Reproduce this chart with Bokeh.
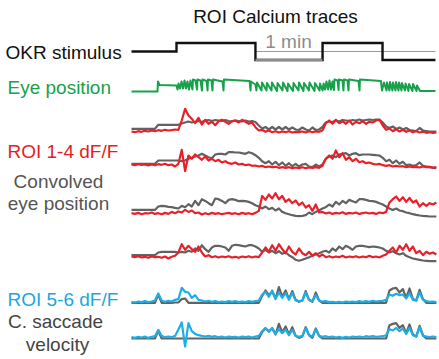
from bokeh.plotting import figure
from bokeh.models import Range1d
from bokeh.core.properties import value
from bokeh.embed import file_html
from bokeh.resources import INLINE

# ---------------- data ----------------
# time axis in seconds (1 min scale bar = 60 s); traces sampled every 3 s
time = [3 * i for i in range(92)]

# OKR stimulus: edges (s) and level of each segment (+1 / 0 / -1)
stim_edges = [0, 40.3, 111.0, 171.1, 224.8, 272.2]
stim_levels = [0, 1, -1, 1, -1]
scale_bar_start = 111.0
scale_bar_len = 60.0

# eye position breakpoints (s, deg-like units)
eye_t = [0, 23.3, 23.7, 25.1, 40.3, 41.2, 42.1, 43.4, 44.8, 46.1, 47.5, 48.8, 50.1, 51.5, 52.8,
         54.6, 55.1, 57.3, 58.7, 59.1, 61.8, 63.1, 63.6, 67.2, 68.1, 68.5, 71.6, 72.5, 73.0,
         81.5, 82.4, 82.8, 105.7, 106.6, 107.0, 111.0,
         111.9, 112.4, 116.4, 116.9, 120.9, 121.3, 125.4, 125.8, 130.3, 130.8, 135.2, 135.7,
         139.7, 140.2, 144.6, 145.1, 149.5, 150.0, 154.0, 154.5, 158.9, 159.4, 163.9, 164.3,
         168.4, 168.8, 171.1,
         172.0, 173.3, 174.6, 176.0, 177.3, 178.7, 180.0, 181.3, 181.8, 184.5, 185.4, 185.8,
         189.0, 189.8, 190.3, 193.4, 194.3, 194.8, 203.3, 204.2, 204.6, 223.4, 224.3,
         226.1, 228.4, 228.8, 231.0, 231.5, 233.7, 234.2, 236.4, 236.9, 239.1, 239.6, 241.8,
         242.2, 244.9, 245.4, 248.0, 248.5, 251.6, 252.1, 255.3, 255.7, 258.4, 272.2]
eye_pos = [0, 0, 10, 6.5, 6, 2, 8, 3, 10, 3, 11, 3, 10, 2, 11,
           2, 12, 11, 2, 12, 11, 1, 12, 10.5, 1, 12, 11, 1, 12,
           10, 1, 12, 10.5, 1, 10, 7,
           1, 9, 1, 9, 1, 8.5, 1, 9, 0.5, 8.5, 1, 9,
           0.5, 8, 0.5, 8.5, 1, 9, 0.5, 8.5, 1, 9, 0.5, 8.5,
           1, 8, 1,
           8, 2, 10, 2, 11, 2, 10, 1.5, 12, 11, 1.5, 12,
           11, 1, 12, 11, 1, 12, 10.5, 1, 12, 10.5, 1,
           9, 1, 9, 1, 9.5, 1, 9, 1, 9.5, 1, 9, 1,
           8.5, 1, 8, 0.5, 7.5, 0.5, 7.5, 0.5, 6, 0.5, 0.5]

roi1 = [0, -0.7, 0.3, -0.3, 0.7, 0, 1, 0.3, 1.3, 0.7, 1.7, 1, 1.3, 2, 1.7, 11, 22.7, 16, 12.7, 8.3,
        13.7, 7, 11.7, 7.7, 9.7, 6.3, 10.3, 11.7, 9.7, 7.7, 10.3, 11, 9, 11.7, 9.7, 7.7, 9, 4.3, 1, 1.7,
        -0.3, 1, -0.7, 0.3, -1, 0, -0.7, 0.3, -1, -0.3, -0.7, 0, -1, 0.3, -0.7, 0, -0.3, 1, 8.3, 11,
        7.7, 11.7, 8.3, 10.3, 7.7, 11, 7, 9.7, 8.3, 10.3, 7.7, 9.7, 9, 11, 11.7, 6, 1.7, 3, 0.3, 2.3,
        0, 1.7, -0.3, 1, -0.7, 0.3, -1, -0.3, -1.3, -0.7, -1.3, -1]
conv1 = [2.7, 2.7, 2.7, 2.7, 2.7, 2.7, 2.7, 2.7, 6.7, 6.7, 6.7, 6.7, 6.7, 6.7, 6.7, 8, 9, 10, 9, 9.5,
         10.5, 9.5, 11, 11.5, 10.5, 11.5, 11, 10.5, 11.5, 10.5, 10, 11, 10.5, 10, 11, 10, 10.5, 9.5, 6, 3,
         4.5, 2, 4.5, 2, 4.5, 2, 4.5, 2, 4, 2, 1.5, 4, 2, 1, 4, 1.5, 2, 4.5, 9, 10,
         9.5, 11, 10, 11.5, 11, 10.5, 11.5, 11, 12, 11, 11.5, 12, 11.5, 12, 12, 9, 5, 3.5, 5, 2.5,
         4, 2, 3.5, 1.5, 1, 0.5, 3.5, 1, 0.5, 0, 0, 0]

roi2 = [1, 0.3, 1.3, 0.7, 1, 0, 1, 0.3, 1.3, 0.7, 1.7, 0.3, 1, -1, 1.7, 15.7, -5.7, 10, 6.7, 11,
        8.3, 5.7, 9, 5, 6.7, 4.3, 5.7, 3, 4.3, 2.3, 1.7, 3, 1, 1.7, 0.3, 1, -0.3, 0, -1, -0.3,
        -1.7, -1, -1.7, -1.3, -2.3, -1.7, -2.3, -1.7, -2.7, -2, -2.7, -1.7, -2.7, -2, -2.3, -1.7, -2.3, -0.3, 6.7, 10,
        6.7, 15, 8.3, 12.3, 5.7, 8.3, 4.3, 6.7, 3.3, 4.3, 2.3, 3, 1.7, 1, 1.7, 0.3, -0.3, 0.3, -1, -0.3,
        -1, -0.7, -1.7, -1, -1.7, -1.3, -2, -1, -1.7, -1.3, -2, -1.7]
conv2 = [1.7, 1.7, 1.7, 1.7, 1.7, 1.7, 1.7, 1.7, 5, 5, 5, 5, 5, 5, 5, 4.3, 5, 6.7, 7.7, 9,
         10, 11.7, 10, 8.3, 7.3, 11, 11.7, 11.7, 11, 13.3, 13.3, 13, 13, 12.3, 11.7, 13.3, 12.3, 10.3, 7.7, 4.3,
         2.3, 4.3, 1, 3.7, 0.3, 3, -0.3, 2.3, -0.7, 1.7, -1, 1, 1.7, -1, -1.7, 1, -1, 1, 6.7, 9,
         10, 8.3, 11, 11.7, 12.3, 10, 11.7, 12.3, 10.3, 11, 11, 11, 10.7, 10.3, 10, 7.7, 4.3, 5.7, 2.3, 5,
         1.7, 3.7, 0.3, 1, -0.3, 0.3, 3, -0.3, -1, -1.7, -2.3, -2.7]

roi3 = [0, -0.7, 0.3, -1, 0, -0.3, 0.7, -0.7, 0, -1, 0.3, -0.7, 1.3, 0, 1.7, 0.7, 3.3, 1.3, 2.7, 0,
        0.7, -1.3, 0, -1, 0.3, -0.7, 0, -1, -0.3, 0.3, -0.7, 0, -1, 0.3, -0.7, 0, -1, 0.3, 2.3, 17.3,
        13.3, 18.7, 14.7, 20, 14, 17.3, 11.3, 14, 10, 12.7, 8, 10.7, 5.7, 8, 2.3, 8.7, 0.7, 1.3, -0.3, 0.7,
        -0.7, 0.3, -0.3, 1, -0.7, 0.3, -0.3, 0.7, -0.7, 0, 0.7, -0.3, 0.3, -0.7, 0.7, 0, 1.3, 10.7, 14, 16.7,
        12.3, 16, 11.3, 15.3, 10.7, 12.7, 6.7, 10, 7.3, 10, 8.7, 10.7]
conv3 = [3.3, 3.3, 3.3, 3.3, 3.3, 3.3, 3.3, 3.3, 6.7, 7.3, 7, 6.3, 6, 5.3, 4.7, 7.3, 6, 9, 6.7, 12.3,
         8, 14, 12.3, 10, 8, 14.7, 14, 12.3, 10, 13.3, 14, 13.3, 12, 12.3, 12, 11.3, 10, 8, 6.7, 4.7,
         6.7, 4, 5.3, 2.7, 4.7, 1.3, 0, -1, -2, -2.7, -3, -2.7, -2, 0.7, -1, 1.3, 2.7, 4.7, 6, 8.7,
         6.7, 11.3, 8.7, 12.3, 10, 13.3, 12, 10.7, 14, 14, 13.3, 12.3, 12, 11.3, 10, 8.7, 6.7, 4.7, 3.3, 4.7,
         2.7, 2, 0.7, 0, -1, -1.7, -2.3, -2.7, -3, -3.3, -3.3, -3.3]

roi4 = [1, 0.3, 1.3, 0, 0.7, -0.3, 1, 0.3, 0.7, -0.3, 1, -1, 0.7, 1.7, 5, 13.3, 7.7, 11.7, 8.3, 5.7,
        11, 5, 1, 2.3, 0.3, 1.3, 0, 1, 0.3, 1.3, 0, 0.7, -0.3, 1, 0.3, 1.3, 0, 1, 0.3, 5,
        10, 5.7, 12.3, 6.7, 13.3, 8.3, 4.3, 11, 5.7, 3, 9, 4.3, 2.3, 5.7, 1.7, 4.3, 1, 3, 0.3, 1.3,
        0, 1, 0.3, 1.7, 0, 1, 0.3, 1.3, 0, 1, 0.3, 1.7, 0.3, 1, 0, 1.7, 3, 6.7, 10, 5,
        11.7, 7.7, 13.3, 6.7, 11, 4.3, 6.7, 2.3, 5.7, 3.7, 5, 3]
conv4 = [2.3, 2.3, 2.3, 2.3, 2.3, 2.3, 2.3, 2.3, 5, 5.7, 5.7, 5.7, 5.7, 5.7, 5, 5.7, 5, 6.7, 5.7, 9,
         6.7, 12.3, 8.3, 5.7, 10, 11.7, 11.7, 11, 10, 6.7, 11.7, 12.7, 12.3, 11.7, 11, 12.3, 12.3, 11, 9, 5.7,
         7.7, 5, 6.7, 4.3, 6.3, 3.7, 5, 2.3, 0.3, -2.3, -3.3, -2.3, -1, 0.3, 1.7, 3, 4.3, 5.7, 6.7, 5,
         9, 6.7, 11, 8.3, 11.7, 10, 7.7, 11, 11.7, 11.7, 11, 10.3, 11, 10.7, 10, 9, 6.7, 5, 6.3, 4.3,
         3, 4.3, 1.7, 0.3, -1, -1.7, -2.3, -3, -3.3, -3.7, -3.7, -3.7]

roi5 = [0, -0.7, 0.3, -0.3, 0.7, -0.3, 0.3, 1.3, 8.3, 1.3, 0, 1, 0.3, 2, 2.7, 14, 10, 9.3, 4, 6.7,
        2, 1.3, 0.3, 1, 0, 0.7, -0.3, 0.3, -0.3, 0.7, 0, 0.7, -0.3, 0.3, -0.3, 0.7, 0, 0.7, 1.3, 7.3,
        10, 5, 11.3, 2.7, 9.3, 4, 8.7, 2, 8.7, 1.3, 0.7, 1.3, 9.3, 2, 0.7, 6.7, 1.3, 0.3, 0.7, -0.3,
        0, -0.7, 0, -0.7, 0.3, -0.3, 0.3, -0.3, 0.7, 0, 0.7, 0, 1, 0.3, 0.7, 1, 2, 7.3, 6, 8,
        6.7, 7.3, 3.3, 8.7, 2, 1.3, 9.3, 2, 0.7, 0, 0.3, -0.3]
csv5 = [-1, -1, -1, -1, -1, -1, -1, -1, 7.3, -1, -1, -1, -1, -0.7, -0.7, 2.7, 3.3, -1, -1, -1,
        -1, -1, -1, -1, -1, -1, -1, -1, -1, -1, -1, -1, -1, -1, -1, -1, -1, -1, -1, 6,
        11.3, 6.7, 10, 3.3, 14.7, 5, 11.3, 2.7, 10.7, 2, 0, 1.3, 10.7, 2, 0, 9.3, 1.3, -1, -1, -1,
        -1, -1, -1, -1, -1, -1, -1, -1, -1, -1, -1, -1, -1, -1, -1, -1, -1, 11.3, 13.3, 14,
        9.3, 12.7, 4, 13.3, 2.7, 1.3, 12, 2.7, -1, -1, -1, -1]

roi6 = [0, -0.7, 0.3, -0.3, 0.7, -0.7, 0.3, 1, 7.3, 1.3, 0, 0.7, 0, 1.3, 7.7, 14.7, -9.3, 14, 6, 3.3,
        2, 1.3, 0.7, 1.3, 0.3, 1, 0, 0.7, -0.3, 0.7, 0, 0.3, -0.3, 0.7, 0, 0.7, -0.3, 0.7, 1.3, 6,
        9.3, 5.3, 9.3, 3.3, 8, 4, 7.7, 2, 7.3, 1.3, 0.3, 1.3, 9.3, 2, 0.7, 8, 1.3, 0.3, 1, 0,
        0.7, -0.3, 0.3, -0.7, 0.3, -0.3, 0.7, 0, 0.7, 0, 1, 0.3, 1, 0.3, 0.7, 1, 2, 8, 6.7, 9.3,
        6, 8.7, 3.3, 9.3, 2, 0.7, 10, 1.3, 0.7, 0, 0.7, 0]
csv6 = [-1.3, -1.3, -1.3, -1.3, -1.3, -1.3, -1.3, -1.3, 6.7, -1.3, -1.3, -1.3, -1.3, -1.3, -1.3, -1.3, -1.3, -1.3, -1.3, -1.3,
        -1.3, -1.3, -1.3, -1.3, -1.3, -1.3, -1.3, -1.3, -1.3, -1.3, -1.3, -1.3, -1.3, -1.3, -1.3, -1.3, -1.3, -1.3, -1.3, 5.3,
        8.7, 6, 8.7, 2.7, 13.3, 4.7, 10.7, 2.7, 10, 1.3, -0.7, 0.7, 10, 2, -0.7, 8.7, 1.3, -1.3, -1.3, -1.3,
        -1.3, -1.3, -1.3, -1.3, -1.3, -1.3, -1.3, -1.3, -1.3, -1.3, -1.3, -1.3, -1.3, -1.3, -1.3, -1.3, -1.3, 12, 13.3, 14,
        9.3, 12, 4, 12.7, 2.7, 0.7, 11.3, 2, -1.3, -1.3, -1.3, -1.3]

# ---------------- layout ----------------
W, H = 439, 359
PX_PER_S = 67 / 60.0
X0 = 131


def sx(px):
    return (px - X0) / PX_PER_S


RED = "#e8202a"
GRAY = "#626262"
GREEN = "#17a14b"
BLUE = "#1eaee6"
FONT = value("Liberation Sans")
FS = "19px"

p = figure(width=W, height=H, x_range=Range1d(sx(0), sx(W)), y_range=Range1d(H, 0),
           output_backend="svg", toolbar_location=None, min_border=0)
p.axis.visible = False
p.grid.visible = False
p.outline_line_color = None
p.background_fill_color = "white"
p.border_fill_color = "white"

# stimulus
STIM_BASE, STIM_AMP = 51, 8.5
sx_line, sy_line = [], []
for k, lev in enumerate(stim_levels):
    sx_line += [stim_edges[k], stim_edges[k + 1]]
    sy_line += [STIM_BASE - lev * STIM_AMP] * 2
p.line([scale_bar_start, stim_edges[-1]], [STIM_BASE, STIM_BASE], line_color="#9a9a9a", line_width=1.2)
p.line(sx_line, sy_line, line_color="#111111", line_width=2.4, line_join="miter")
p.line([scale_bar_start, scale_bar_start + scale_bar_len], [STIM_BASE + STIM_AMP] * 2,
       line_color="#8c8c8c", line_width=2.6)

# eye position
EYE_BASE = 91
p.line(eye_t, [EYE_BASE - v for v in eye_pos], line_color=GREEN, line_width=2, line_join="round")

rows = [(131, conv1, roi1, RED), (165, conv2, roi2, RED), (212.7, conv3, roi3, RED),
        (257, conv4, roi4, RED), (301.3, csv5, roi5, BLUE), (336.7, csv6, roi6, BLUE)]
for base, grey_tr, col_tr, col in rows:
    p.line(time, [base - v for v in grey_tr], line_color=GRAY, line_width=2.2, line_join="round")
    p.line(time, [base - v for v in col_tr], line_color=col, line_width=2.2, line_join="round")


# texts
def label(x, y, txt, color, align="left"):
    p.text(x=[x], y=[y], text=[txt], text_color=color, text_font=FONT, text_font_size=FS,
           text_align=align, text_baseline="middle")


label(sx(275), 16, "ROI Calcium traces", "#111111", "center")
label(sx(288), 41, "1 min", "#8c8c8c", "center")
label(sx(5), 52, "OKR stimulus", "#111111")
label(sx(7), 87, "Eye position", GREEN)
label(sx(7), 151, "ROI 1-4 dF/F", "#e31e24")
label(sx(58), 181, "Convolved", "#555555", "center")
label(sx(58), 203, "eye position", "#555555", "center")
label(sx(7), 299, "ROI 5-6 dF/F", "#1aa7e0")
label(sx(55), 321, "C. saccade", "#444444", "center")
label(sx(57), 344, "velocity", "#444444", "center")

open("out.html", "w").write(file_html(p, INLINE))
